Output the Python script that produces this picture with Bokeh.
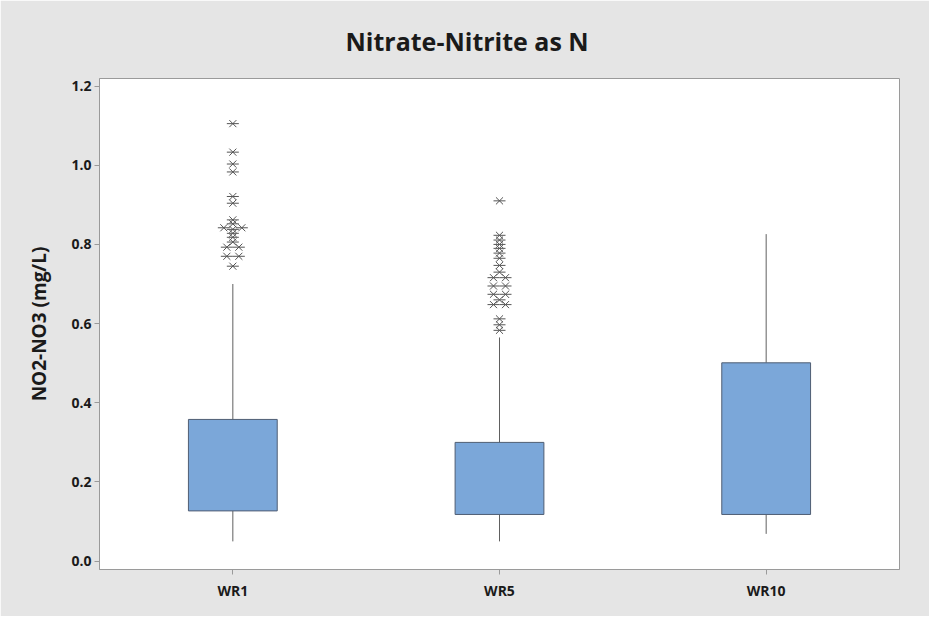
from bokeh.plotting import figure
from bokeh.models import Range1d, FixedTicker, ColumnDataSource, Title, PrintfTickFormatter
from bokeh.embed import file_html
from bokeh.resources import INLINE

# ---------------- data ----------------
categories = ["WR1", "WR5", "WR10"]
q1 = [0.127, 0.118, 0.118]
median = [0.197, 0.189, 0.222]
q3 = [0.358, 0.300, 0.501]
whisker_low = [0.050, 0.050, 0.069]
whisker_high = [0.700, 0.565, 0.826]

wr1_outliers = [1.105, 1.033, 1.003, 0.983, 0.921, 0.904, 0.862, 0.852, 0.842, 0.842,
                0.838, 0.828, 0.818, 0.806, 0.793, 0.793, 0.770, 0.770, 0.745]
wr1_tie_slot = [0, 0, 0, 0, 0, 0, 0, 0, -1.5, 1.5, 0, 0, 0, 0, -1, 1, -1, 1, 0]

wr5_outliers = [0.910, 0.823, 0.811, 0.800, 0.790, 0.778, 0.765, 0.747, 0.730, 0.716,
                0.716, 0.695, 0.695, 0.674, 0.674, 0.660, 0.648, 0.648, 0.612, 0.597, 0.583]
wr5_tie_slot = [0, 0, 0, 0, 0, 0, 0, 0, 0, -1, 1, -1, 1, -1, 1, 0, -1, 1, 0, 0, 0]

y_ticks = [0.0, 0.2, 0.4, 0.6, 0.8, 1.0, 1.2]

# ---------------- styling ----------------
BG = "#e5e5e5"
AXIS_GRAY = "#9a9a9a"
BOX_FILL = "#7ba7d9"
BOX_LINE = "#4f5d73"
WHISKER = "#606060"
STAR = "#555555"
BOX_WIDTH = 0.333
SLOT = 0.0225
FONT = "Open Sans"
TEXT = "#1a1a1a"

centers = [i + 0.5 for i in range(len(categories))]

p = figure(width=929, height=616, output_backend="svg", toolbar_location=None,
           x_range=Range1d(0, len(categories)), y_range=Range1d(-0.021, 1.219),
           min_border_left=99, min_border_right=30, min_border_top=78, min_border_bottom=47)
p.background_fill_color = "white"
p.border_fill_color = BG
p.outline_line_color = AXIS_GRAY
p.grid.visible = False

title = Title(text="Nitrate-Nitrite as N", align="left", offset=246, standoff=42,
              text_font=FONT, text_font_size="25px", text_font_style="bold", text_color=TEXT)
p.add_layout(title, "above")

# whiskers
p.segment(x0=centers, y0=whisker_low, x1=centers, y1=q1, line_color=WHISKER, line_width=1)
p.segment(x0=centers, y0=q3, x1=centers, y1=whisker_high, line_color=WHISKER, line_width=1)

# boxes
src = ColumnDataSource(dict(x=centers, top=q3, bottom=q1, med=median))
p.vbar(x="x", width=BOX_WIDTH, top="top", bottom="bottom", source=src,
       fill_color=BOX_FILL, line_color=BOX_LINE, line_width=1)
p.rect(x=centers, y=median, width=BOX_WIDTH, height=0, line_color=BOX_LINE, line_width=1.2)

# outliers
ox, oy = [], []
for c, vals, slots in [(centers[0], wr1_outliers, wr1_tie_slot), (centers[1], wr5_outliers, wr5_tie_slot)]:
    for v, s in zip(vals, slots):
        ox.append(c + s * SLOT)
        oy.append(v)
p.scatter(ox, oy, marker="x", size=10, line_color=STAR, line_width=1)
p.scatter(ox, oy, marker="dash", size=12, line_color=STAR, line_width=1)

# axes
p.xaxis.ticker = FixedTicker(ticks=centers)
p.xaxis.major_label_overrides = {c: n for c, n in zip(centers, categories)}
p.xaxis.minor_tick_line_color = None
p.yaxis.ticker = FixedTicker(ticks=y_ticks)
p.yaxis.formatter = PrintfTickFormatter(format="%.1f")
p.yaxis.minor_tick_line_color = None
p.yaxis.axis_label = "NO2-NO3 (mg/L)"

for ax in (p.xaxis, p.yaxis):
    ax.axis_line_color = AXIS_GRAY
    ax.major_tick_line_color = AXIS_GRAY
    ax.major_tick_out = 5
    ax.major_tick_in = 0
    ax.major_label_text_font = FONT
    ax.major_label_text_font_size = "14px"
    ax.major_label_text_font_style = "bold"
    ax.major_label_text_color = TEXT
    ax.major_label_standoff = 3
    ax.axis_label_text_font = FONT
    ax.axis_label_text_font_size = "19px"
    ax.axis_label_text_font_style = "bold"
    ax.axis_label_text_color = TEXT
p.yaxis.axis_label_standoff = 16
p.xaxis.major_label_standoff = 6

open("out.html", "w").write(file_html(p, INLINE))
